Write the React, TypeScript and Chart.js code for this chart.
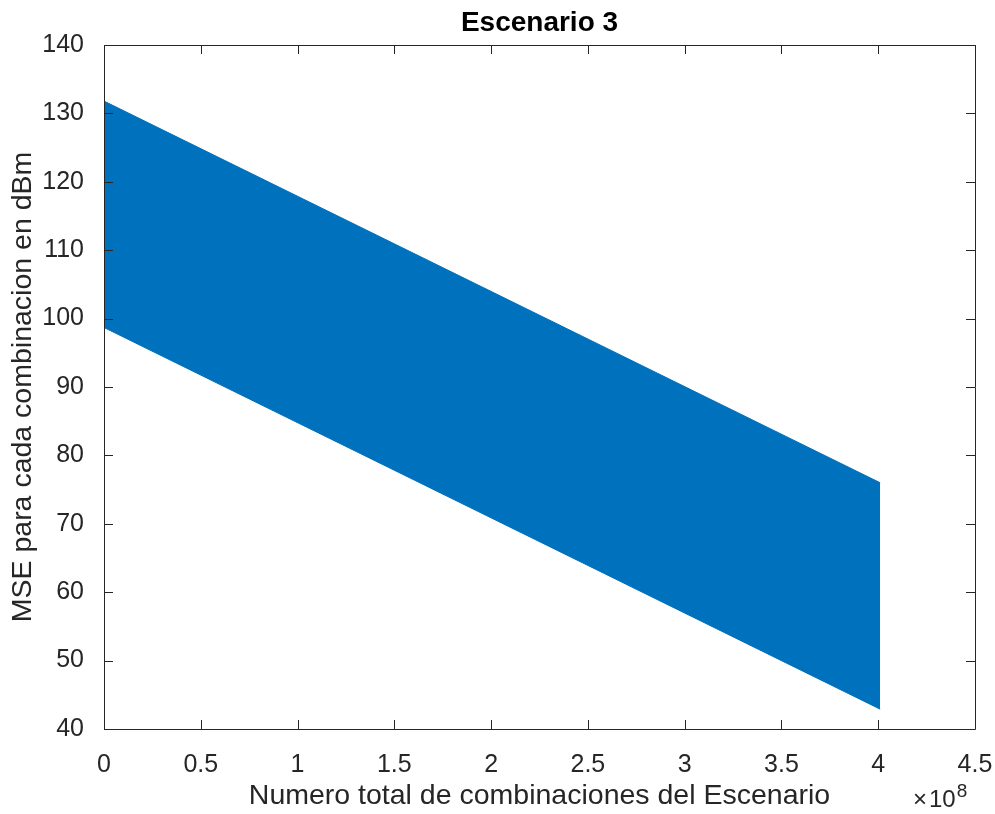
import React, { useEffect, useRef } from "react";
import { Chart, registerables } from "chart.js";

Chart.register(...registerables);

// Data (x in combinations, y in dBm)
const xEnds = [0, 4.01e8];
const upperEdge = [131.8, 76.0];
const lowerEdge = [98.7, 42.9];
const yTicks = [40, 50, 60, 70, 80, 90, 100, 110, 120, 130, 140];
const xTicks = [0, 0.5e8, 1e8, 1.5e8, 2e8, 2.5e8, 3e8, 3.5e8, 4e8, 4.5e8];

const TITLE = "Escenario 3";
const X_LABEL = "Numero total de combinaciones del Escenario";
const Y_LABEL = "MSE para cada combinacion en dBm";
const EXP_TIMES = "\u00d7";
const EXP_BASE = "10";
const EXP_POW = "8";

const FONT = "'Liberation Sans', Arial, Helvetica, sans-serif";
const AX = "#262626";
const BLUE = "#0072BD";

const boxPlugin = {
  id: "matlabBox",
  afterDatasetsDraw(chart: any) {
    const { ctx, chartArea } = chart;
    const { left, right, top, bottom } = chartArea;
    const xs = chart.scales.x;
    const ys = chart.scales.y;
    const tl = 9;
    ctx.save();
    ctx.strokeStyle = AX;
    ctx.lineWidth = 1;
    ctx.beginPath();
    ctx.rect(Math.round(left) + 0.5, Math.round(top) + 0.5, Math.round(right - left), Math.round(bottom - top));
    ctx.stroke();
    ctx.beginPath();
    for (const v of xTicks) {
      const px = Math.round(xs.getPixelForValue(v)) + 0.5;
      ctx.moveTo(px, bottom);
      ctx.lineTo(px, bottom - tl);
      ctx.moveTo(px, top);
      ctx.lineTo(px, top + tl);
    }
    for (const v of yTicks) {
      const py = Math.round(ys.getPixelForValue(v)) + 0.5;
      ctx.moveTo(left, py);
      ctx.lineTo(left + tl, py);
      ctx.moveTo(right, py);
      ctx.lineTo(right - tl, py);
    }
    ctx.stroke();
    // exponent label (×10^8)
    ctx.fillStyle = AX;
    ctx.textAlign = "left";
    ctx.textBaseline = "alphabetic";
    const bx = right - 62;
    const by = bottom + 78;
    ctx.font = `24px ${FONT}`;
    ctx.fillText(EXP_TIMES, bx, by);
    const wt = ctx.measureText(EXP_TIMES).width;
    ctx.font = `24px ${FONT}`;
    ctx.fillText(EXP_BASE, bx + wt + 2, by);
    const wb = ctx.measureText(EXP_BASE).width;
    ctx.font = `19px ${FONT}`;
    ctx.fillText(EXP_POW, bx + wt + 2 + wb + 1, by - 10);
    ctx.restore();
  },
};

export default function App() {
  const ref = useRef<HTMLCanvasElement | null>(null);
  useEffect(() => {
    if (!ref.current) return;
    const chart = new Chart(ref.current, {
      type: "line",
      data: {
        datasets: [
          {
            label: "upper",
            data: xEnds.map((x, i) => ({ x, y: upperEdge[i] })),
            borderColor: BLUE,
            backgroundColor: BLUE,
            borderWidth: 1,
            pointRadius: 0,
            fill: "+1",
          },
          {
            label: "lower",
            data: xEnds.map((x, i) => ({ x, y: lowerEdge[i] })),
            borderColor: BLUE,
            backgroundColor: BLUE,
            borderWidth: 1,
            pointRadius: 0,
            fill: false,
          },
        ],
      },
      options: {
        animation: false,
        responsive: true,
        maintainAspectRatio: false,
        layout: { padding: { top: 0, right: 20, left: 0, bottom: 0 } },
        plugins: {
          legend: { display: false },
          tooltip: { enabled: false },
          title: {
            display: true,
            text: TITLE,
            color: "#000",
            fullSize: false,
            font: { family: FONT, size: 28, weight: "bold", lineHeight: 1.2 },
            padding: { top: 6, bottom: 5.4 },
          },
        },
        scales: {
          x: {
            type: "linear",
            min: 0,
            max: 4.5e8,
            grid: { display: false },
            border: { display: false },
            afterBuildTicks: (s: any) => {
              s.ticks = xTicks.map((v) => ({ value: v }));
            },
            afterFit: (s: any) => {
              s.height = 85;
              s.paddingLeft = 0;
              s.paddingRight = 0;
            },
            ticks: {
              autoSkip: false,
              maxRotation: 0,
              padding: 13,
              color: AX,
              font: { family: FONT, size: 25 },
              callback: (v: any) => String(Math.round(Number(v) / 1e7) / 10),
            },
            title: {
              display: true,
              text: X_LABEL,
              color: AX,
              font: { family: FONT, size: 28.5 },
              padding: { top: 0, bottom: 1 },
            },
          },
          y: {
            type: "linear",
            min: 40,
            max: 140,
            grid: { display: false },
            border: { display: false },
            afterBuildTicks: (s: any) => {
              s.ticks = yTicks.map((v) => ({ value: v }));
            },
            afterFit: (s: any) => {
              s.width = 104;
              s.paddingTop = 0;
              s.paddingBottom = 0;
            },
            ticks: {
              padding: 12,
              color: AX,
              font: { family: FONT, size: 25 },
            },
            title: {
              display: true,
              text: Y_LABEL,
              color: AX,
              font: { family: FONT, size: 28.5 },
              padding: { top: 6, bottom: 0 },
            },
          },
        },
      },
      plugins: [boxPlugin],
    } as any);
    return () => chart.destroy();
  }, []);
  return (
    <div style={{ position: "fixed", left: 0, top: 0, width: 995, height: 814, background: "#fff" }}>
      <canvas ref={ref} />
    </div>
  );
}
